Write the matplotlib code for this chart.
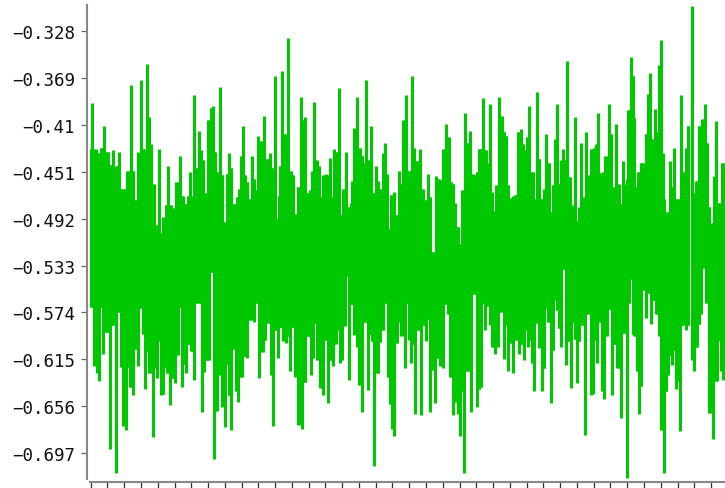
#noise trace, green strokes on bare axes
import numpy as np
from matplotlib import pyplot as plt

#y ticks
y_ticks = [-0.328, -0.369, -0.41, -0.451, -0.492, -0.533, -0.574, -0.615, -0.656, -0.697]
y_labels = ['\u22120.328', '\u22120.369', '\u22120.41', '\u22120.451', '\u22120.492', '\u22120.533', '\u22120.574', '\u22120.615', '\u22120.656', '\u22120.697']

#upper peaks, sample number and value, one pair of lists per stretch of the trace
high_x_a = [275,287,296,303,312,318,325,333,340,350,358,366,375,382,393,400,407,415,422,430,440,446,454,462,470,477,483,490,498,504,512,520,528,540,548,556,563,569,576,582,588,596,603,610,618,625,632,638,646,654,660,667,675,680,687,694,702,710,716]
highs_a = [-.391,-.431,-.435,-.430,-.411,-.434,-.434,-.445,-.432,-.446,-.434,-.466,-.466,-.450,-.375,-.450,-.476,-.434,-.371,-.431,-.357,-.403,-.427,-.462,-.498,-.431,-.505,-.491,-.480,-.446,-.480,-.483,-.460,-.437,-.472,-.479,-.472,-.451,-.472,-.384,-.448,-.415,-.432,-.441,-.470,-.406,-.395,-.394,-.434,-.451,-.377,-.454,-.495,-.453,-.435,-.448,-.479,-.473,-.466]
high_x_b = [3,8,15,22,28,35,42,47,53,62,72,82,90,97,104,112,116,120,127,135,145,153,160,165,173,182,188,196,203,210,217,222,230,236,240,245,250,257,264,270,276,283,290,297,304,310,318,326,333,337,342,352,359,366,372,379,386,393,400,407,414,420,428,435,442,447,452,462,468,476,482,490,497,504,515,522,530,540,548,556,563,570,577,587,596,605,610,618,627,634,640,645,653,660,667,676,684,691,698,704,711,716]
highs_b = [-.437,-.411,-.454,-.460,-.475,-.437,-.457,-.467,-.420,-.424,-.402,-.440,-.435,-.448,-.367,-.492,-.472,-.446,-.363,-.418,-.334,-.450,-.454,-.488,-.464,-.386,-.406,-.403,-.470,-.467,-.450,-.390,-.441,-.446,-.473,-.507,-.454,-.453,-.454,-.439,-.473,-.431,-.434,-.378,-.489,-.466,-.434,-.482,-.478,-.459,-.413,-.386,-.430,-.437,-.443,-.371,-.441,-.411,-.470,-.446,-.459,-.466,-.435,-.426,-.453,-.501,-.471,-.469,-.489,-.450,-.462,-.406,-.384,-.450,-.367,-.430,-.442,-.431,-.466,-.476,-.453,-.473,-.521,-.455,-.457,-.458,-.431,-.409,-.421,-.460,-.462,-.478,-.499,-.514,-.467,-.400,-.426,-.415,-.453,-.454,-.451,-.431]
high_x_c = [3,10,18,22,29,36,42,47,57,65,72,78,85,92,100,105,113,122,129,133,140,148,158,163,170,178,185,192,199,207,214,218,225,231,238,243,249,255,262,270,275,280,286,292,298,304,311,318,326,334,342,347,354,362,370,376,386,394,398,403,409,416,421,428,434,440,445,452,459,463,468,475,483,490,497,503,510,518,525,532,537,543,550,553,557,562,570,576,583,590,602,610,617,624,635,642,648,656,665,675,682,688,694,702,708,716,720,727,733]
highs_c = [-.431,-.387,-.432,-.443,-.392,-.469,-.485,-.463,-.386,-.402,-.416,-.420,-.463,-.474,-.472,-.471,-.416,-.414,-.427,-.432,-.421,-.394,-.451,-.475,-.381,-.440,-.475,-.466,-.418,-.443,-.486,-.463,-.422,-.392,-.462,-.441,-.431,-.441,-.354,-.456,-.484,-.480,-.403,-.494,-.482,-.426,-.473,-.416,-.454,-.431,-.430,-.427,-.400,-.452,-.451,-.437,-.392,-.418,-.511,-.464,-.409,-.462,-.479,-.442,-.462,-.457,-.397,-.351,-.367,-.404,-.464,-.451,-.443,-.443,-.418,-.383,-.365,-.422,-.396,-.416,-.358,-.336,-.435,-.475,-.501,-.486,-.442,-.464,-.430,-.475,-.384,-.451,-.430,-.411,-.306,-.470,-.459,-.411,-.405,-.392,-.426,-.482,-.496,-.455,-.407,-.478,-.483,-.443,-.443]

#lower peaks
low_x_a = [273,281,288,292,298,304,310,318,325,330,337,348,355,362,368,378,385,390,398,405,415,423,428,435,442,448,458,465,472,478,484,490,497,502,510,517,525,533,538,545,551,558,566,573,581,588,597,605,612,620,628,634,642,650,657,661,667,674,681,686,692,700,707,715]
lows_a = [-.569,-.621,-.563,-.627,-.634,-.569,-.610,-.591,-.591,-.693,-.585,-.714,-.574,-.622,-.673,-.677,-.622,-.639,-.646,-.606,-.621,-.570,-.593,-.641,-.608,-.627,-.683,-.623,-.631,-.599,-.646,-.645,-.622,-.627,-.655,-.631,-.636,-.611,-.569,-.639,-.619,-.627,-.602,-.608,-.633,-.566,-.566,-.661,-.626,-.616,-.616,-.539,-.702,-.660,-.629,-.595,-.657,-.674,-.619,-.646,-.677,-.606,-.643,-.652]
low_x_b = [5,12,22,30,42,50,58,68,75,85,93,100,107,114,122,130,138,144,150,157,165,175,187,196,203,212,219,225,232,240,248,255,265,272,279,288,294,301,307,314,318,328,335,342,352,358,366,375,384,392,396,403,415,420,428,436,443,450,456,463,470,475,484,494,501,507,513,519,526,534,544,550,557,564,570,577,586,593,600,608,616,623,631,640,648,653,660,667,673,684,694,704,712,718]
lows_b = [-.630,-.612,-.614,-.581,-.582,-.566,-.631,-.609,-.598,-.583,-.629,-.673,-.589,-.614,-.587,-.599,-.601,-.595,-.625,-.587,-.630,-.672,-.676,-.635,-.595,-.629,-.614,-.583,-.616,-.640,-.646,-.598,-.653,-.616,-.621,-.602,-.589,-.618,-.616,-.586,-.542,-.633,-.567,-.594,-.604,-.637,-.661,-.582,-.642,-.593,-.599,-.708,-.627,-.600,-.589,-.566,-.630,-.654,-.676,-.682,-.601,-.582,-.595,-.623,-.566,-.598,-.618,-.602,-.663,-.589,-.664,-.585,-.599,-.580,-.661,-.624,-.653,-.614,-.621,-.623,-.567,-.575,-.630,-.664,-.652,-.663,-.682,-.643,-.714,-.625,-.661,-.558,-.657,-.641]
low_x_c = [3,9,16,22,30,37,44,53,60,71,77,84,92,99,107,112,118,125,132,137,145,151,155,162,172,178,186,192,198,204,212,220,225,230,237,242,250,258,266,274,280,284,291,298,306,315,322,332,338,345,351,358,365,373,382,389,396,405,412,422,430,440,446,452,458,463,470,477,484,491,498,507,514,521,528,537,544,551,558,564,570,575,581,588,594,601,608,617,625,635,643,651,658,664,671,678,688,700,710,716,722,730]
lows_c = [-.639,-.566,-.589,-.568,-.585,-.604,-.610,-.604,-.574,-.615,-.585,-.625,-.601,-.627,-.598,-.580,-.610,-.602,-.616,-.589,-.604,-.598,-.618,-.643,-.583,-.605,-.643,-.623,-.570,-.582,-.653,-.607,-.563,-.572,-.588,-.604,-.536,-.620,-.599,-.640,-.582,-.597,-.636,-.599,-.585,-.681,-.575,-.646,-.645,-.598,-.618,-.582,-.643,-.650,-.595,-.571,-.646,-.602,-.623,-.666,-.592,-.719,-.566,-.545,-.593,-.595,-.625,-.663,-.638,-.554,-.579,-.557,-.584,-.563,-.575,-.595,-.677,-.714,-.643,-.629,-.611,-.620,-.607,-.641,-.634,-.678,-.585,-.589,-.585,-.616,-.625,-.604,-.584,-.575,-.535,-.566,-.662,-.685,-.634,-.598,-.625,-.633]

#sample numbers restart in each stretch
xh = np.array(high_x_a + [x + 720 for x in high_x_b] + [x + 1440 for x in high_x_c])
xl = np.array(low_x_a + [x + 720 for x in low_x_b] + [x + 1440 for x in low_x_c])
hi = np.array(highs_a + highs_b + highs_c)
lo = np.array(lows_a + lows_b + lows_c)

#each peak is a stroke into the band, as far as the shorter of its two neighbours on the other side
i = np.searchsorted(xl, xh).clip(1, len(xl) - 1)
near_lo = np.maximum(lo[i - 1], lo[i])
i = np.searchsorted(xh, xl).clip(1, len(xh) - 1)
near_hi = np.minimum(hi[i - 1], hi[i])

#plot settings
fig = plt.figure(figsize=(7.25, 4.89), dpi=100)
ax = fig.add_axes([87 / 725, 1 - 483 / 489, (725 - 87) / 725, (483 - 6) / 489])
ax.vlines(xh, hi, near_lo, color='#00c800', lw=2.2, capstyle='butt')
ax.vlines(xl, near_hi, lo, color='#00c800', lw=2.2, capstyle='butt')
ax.set_xlim(261, 2175)
ax.set_ylim(-0.7222, -0.3053)

ax.set_yticks(y_ticks)
ax.set_yticklabels(y_labels, family='DejaVu Sans Mono', fontsize=12.6, color='#111111')
ax.set_xticks(np.arange(272, 2175, 50.3))
ax.set_xticklabels([])
ax.tick_params(axis='y', length=4.3, width=0.9, color='#666666', pad=4.3)
ax.tick_params(axis='x', length=4.3, width=0.9, color='#333333')

ax.spines['top'].set_visible(False)
ax.spines['right'].set_visible(False)
ax.spines['left'].set_color('#888888')
ax.spines['bottom'].set_color('#888888')
ax.spines['left'].set_linewidth(1.5)
ax.spines['bottom'].set_linewidth(1.5)
ax.spines['left'].set_bounds(-0.7196, -0.3053)
ax.spines['bottom'].set_bounds(270, 2175)

fig.savefig('out.png', dpi=100)
